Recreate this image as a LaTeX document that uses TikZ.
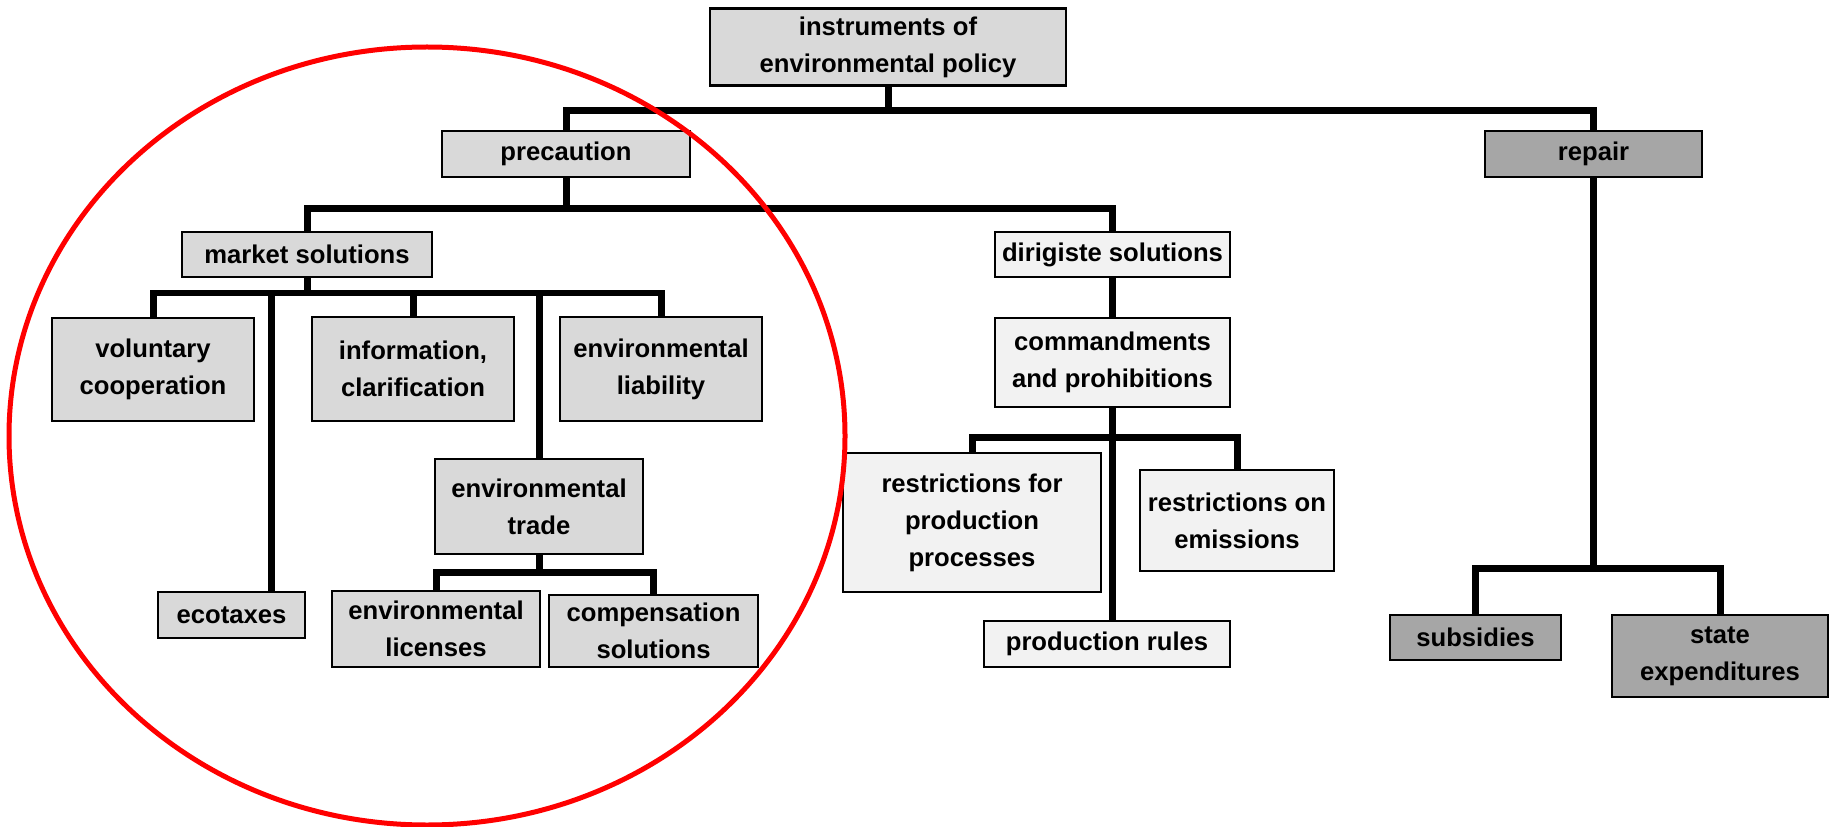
\documentclass[tikz,border=0pt]{standalone}
\usepackage{fontspec}
\setmainfont{Liberation Sans}
\definecolor{boxlight}{HTML}{D9D9D9}
\definecolor{boxwhite}{HTML}{F2F2F2}
\definecolor{boxdark}{HTML}{A6A6A6}
\tikzset{
  box/.style={draw=black, line width=0.05cm, inner sep=0pt, align=center,
    font=\bfseries\fontsize{14.6}{21}\selectfont},
  lgbox/.style={box, fill=boxlight},
  wgbox/.style={box, fill=boxwhite},
  dgbox/.style={box, fill=boxdark},
  link/.style={line width=0.14cm},
}
\begin{document}
\begin{tikzpicture}[x=0.02cm,y=-0.02cm]
\useasboundingbox (0,0) rectangle (1834,827);
% top level
\node[lgbox, minimum width=7.12cm, minimum height=1.54cm] (instr) at (888,47) {instruments of\\environmental policy};
\node[lgbox, minimum width=4.96cm, minimum height=0.92cm] (precaution) at (566,154) {precaution};
\node[dgbox, minimum width=4.34cm, minimum height=0.92cm] (repair) at (1593.5,154) {repair};
% precaution branch
\node[lgbox, minimum width=5.00cm, minimum height=0.90cm] (market) at (307,254.5) {market solutions};
\node[wgbox, minimum width=4.70cm, minimum height=0.90cm] (dirigiste) at (1112.5,254.5) {dirigiste solutions};
% market solutions
\node[lgbox, minimum width=4.04cm, minimum height=2.06cm] (voluntary) at (153,369.5) {voluntary\\cooperation};
\node[lgbox, minimum width=4.04cm, minimum height=2.08cm] (info) at (413,369) {information,\\clarification};
\node[lgbox, minimum width=4.04cm, minimum height=2.08cm] (liability) at (661,369) {environmental\\liability};
\node[lgbox, minimum width=4.16cm, minimum height=1.90cm] (trade) at (539,506.5) {environmental\\trade};
\node[lgbox, minimum width=2.94cm, minimum height=0.92cm] (ecotaxes) at (231.5,615) {ecotaxes};
\node[lgbox, minimum width=4.16cm, minimum height=1.52cm] (licenses) at (436,629) {environmental\\licenses};
\node[lgbox, minimum width=4.18cm, minimum height=1.44cm] (compensation) at (653.5,631) {compensation\\solutions};
% dirigiste solutions
\node[wgbox, minimum width=4.70cm, minimum height=1.78cm] (commands) at (1112.5,362.5) {commandments\\and prohibitions};
\node[wgbox, minimum width=5.16cm, minimum height=2.78cm] (restrprod) at (972,522.5) {restrictions for\\production\\processes};
\node[wgbox, minimum width=3.88cm, minimum height=2.02cm] (restremis) at (1237,520.5) {restrictions on\\emissions};
\node[wgbox, minimum width=4.92cm, minimum height=0.92cm] (prodrules) at (1107,644) {production rules};
% repair
\node[dgbox, minimum width=3.42cm, minimum height=0.90cm] (subsidies) at (1475.5,637.5) {subsidies};
\node[dgbox, minimum width=4.32cm, minimum height=1.64cm] (stateexp) at (1720,656) {state\\expenditures};
% junctions
\coordinate (jtop) at (888,111);
\coordinate (jprec) at (566,209);
\coordinate (jmkt) at (307,293);
\coordinate (jeco) at (271,293);
\coordinate (jtrade) at (539,572);
\coordinate (jcmd) at (1112.5,437);
\coordinate (jrep) at (1593.5,568);
% connectors
\draw[link] (instr) -- (jtop);
\draw[link] (precaution) |- (jtop) -| (repair);
\draw[link] (precaution) -- (jprec);
\draw[link] (market) |- (jprec) -| (dirigiste);
\draw[link] (market) -- (jmkt);
\draw[link] (voluntary) |- (jmkt) -| (liability);
\draw[link] (info) -- (info |- jmkt);
\draw[link] (jeco) -- (jeco |- ecotaxes.north);
\draw[link] (trade) -- (trade |- jmkt);
\draw[link] (trade) -- (jtrade);
\draw[link] (licenses) |- (jtrade) -| (compensation);
\draw[link] (dirigiste) -- (commands);
\draw[link] (commands) -- (commands |- prodrules.north);
\draw[link] (restrprod) |- (jcmd) -| (restremis);
\draw[link] (repair) -- (jrep);
\draw[link] (subsidies) |- (jrep) -| (stateexp);
% marked part
\draw[red, line width=0.1cm] (427,436) ellipse [x radius=418, y radius=389];
\end{tikzpicture}
\end{document}
